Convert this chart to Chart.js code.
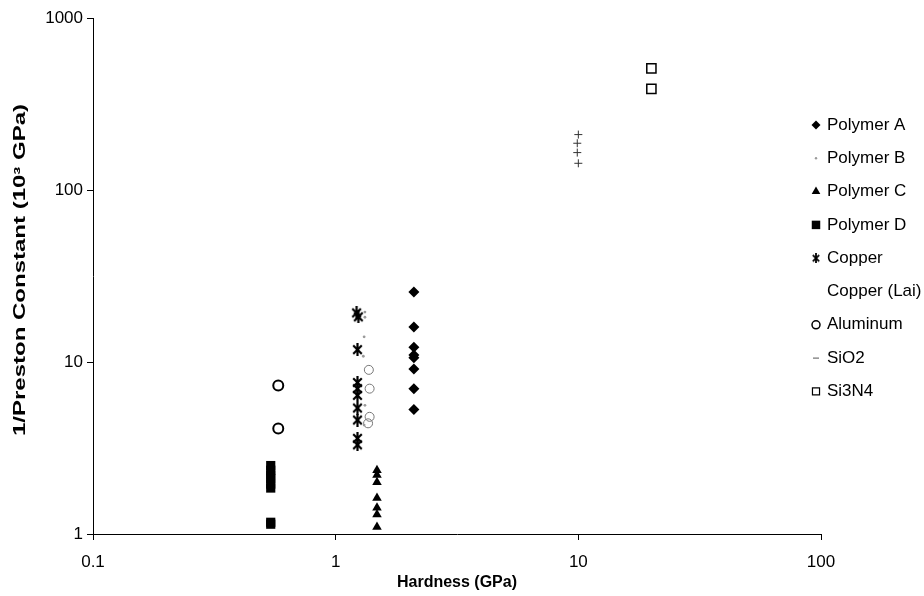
<!DOCTYPE html>
<html>
<head>
<meta charset="utf-8">
<script src="https://cdn.jsdelivr.net/npm/chart.js@4.4.0/dist/chart.umd.min.js"></script>
<style>
  html, body { margin: 0; padding: 0; background: #fff; }
  canvas { display: block; }
</style>
</head>
<body>
<canvas id="chart" width="924" height="596"></canvas>
<script>
// ── Axis ticks ────────────────────────────────────────
const xTickValues = [0.1, 1, 10, 100];
const yTickValues = [1, 10, 100, 1000];

// ── Series (hardness GPa, 1/Preston constant 10^3 GPa) ─
const seriesNames = ["Polymer A", "Polymer B", "Polymer C", "Polymer D", "Copper",
                     "Copper (Lai)", "Aluminum", "SiO2", "Si3N4"];

const polymerAHardness = [2.1, 2.1, 2.1, 2.1, 2.1, 2.1, 2.1, 2.1];
const polymerAValues   = [25.5, 16.0, 12.2, 11.0, 10.6, 9.1, 7.0, 5.3];

const polymerBHardness = [1.32, 1.32, 1.31, 1.30, 1.32, 1.31];
const polymerBValues   = [19.5, 18.2, 14.0, 10.8, 5.6, 4.3];

const polymerCHardness = [1.48, 1.48, 1.48, 1.48, 1.48, 1.48, 1.48];
const polymerCValues   = [2.35, 2.2, 2.0, 1.62, 1.42, 1.3, 1.1];

const polymerDHardness = [0.54, 0.54, 0.54, 0.54, 0.54, 0.54, 0.54, 0.54];
const polymerDValues   = [2.5, 2.35, 2.2, 2.1, 1.95, 1.85, 1.17, 1.14];

const copperHardness = [1.22, 1.24, 1.23, 1.23, 1.23, 1.23, 1.23, 1.23, 1.23, 1.23];
const copperValues   = [19.3, 18.3, 11.8, 7.6, 7.0, 6.4, 5.4, 4.6, 3.6, 3.3];

const copperLaiHardness = [1.37, 1.38, 1.38, 1.36];
const copperLaiValues   = [9.0, 7.0, 4.8, 4.4];

const aluminumHardness = [0.58, 0.58];
const aluminumValues   = [7.3, 4.1];

const sio2Hardness = [10.0, 9.9, 9.9, 10.0];
const sio2Values   = [210, 187, 165, 143];

const si3n4Hardness = [20, 20];
const si3n4Values   = [510, 387];

const yTitle = "1/Preston Constant (10\u00B3 GPa)";
const xTitle = "Hardness (GPa)";

function toPoints(xs, ys) {
    return ys.map((y, i) => ({ x: xs[i], y: y }));
}

// Asterisk marker (X with vertical bar), like the spreadsheet "*" symbol
function makeAsterisk(size, lw) {
    const c = document.createElement("canvas");
    c.width = size; c.height = size;
    const g = c.getContext("2d");
    const m = lw, s = size - lw;
    g.strokeStyle = "#000";
    g.lineWidth = lw;
    g.beginPath();
    g.moveTo(m, m); g.lineTo(s, s);
    g.moveTo(s, m); g.lineTo(m, s);
    g.moveTo(size / 2, 0); g.lineTo(size / 2, size);
    g.stroke();
    return c;
}
const asteriskBig   = makeAsterisk(13, 2.2);
const asteriskSmall = makeAsterisk(10, 1.8);

const datasets = [
    { label: seriesNames[0], data: toPoints(polymerAHardness, polymerAValues),
      pointStyle: "rectRot", pointRadius: 5.5, backgroundColor: "#000", borderColor: "#000", borderWidth: 0 },
    { label: seriesNames[1], data: toPoints(polymerBHardness, polymerBValues),
      pointStyle: "circle", pointRadius: 1.4, backgroundColor: "#9a9a9a", borderColor: "#9a9a9a", borderWidth: 0 },
    { label: seriesNames[2], data: toPoints(polymerCHardness, polymerCValues),
      pointStyle: "triangle", pointRadius: 5.5, backgroundColor: "#000", borderColor: "#000", borderWidth: 0 },
    { label: seriesNames[3], data: toPoints(polymerDHardness, polymerDValues),
      pointStyle: "rect", pointRadius: 6.5, backgroundColor: "#000", borderColor: "#000", borderWidth: 0 },
    { label: seriesNames[4], data: toPoints(copperHardness, copperValues),
      pointStyle: asteriskBig, backgroundColor: "#000", borderColor: "#000" },
    { label: seriesNames[5], data: toPoints(copperLaiHardness, copperLaiValues),
      pointStyle: "circle", pointRadius: 4.5, backgroundColor: "rgba(255,255,255,0)", borderColor: "#777", borderWidth: 1 },
    { label: seriesNames[6], data: toPoints(aluminumHardness, aluminumValues),
      pointStyle: "circle", pointRadius: 5, backgroundColor: "#fff", borderColor: "#000", borderWidth: 2 },
    { label: seriesNames[7], data: toPoints(sio2Hardness, sio2Values),
      pointStyle: "cross", pointRadius: 4, backgroundColor: "#333", borderColor: "#333", borderWidth: 1 },
    { label: seriesNames[8], data: toPoints(si3n4Hardness, si3n4Values),
      pointStyle: "rect", pointRadius: 6.5, backgroundColor: "#fff", borderColor: "#000", borderWidth: 1.5 }
];

// legend markers as they appear in the reference (Copper (Lai) shows none)
const legendMarkers = [
    { style: "rectRot", r: 4.5, fill: "#000", stroke: "#000", lw: 0 },
    { style: "circle",  r: 1.2, fill: "#9a9a9a", stroke: "#9a9a9a", lw: 0 },
    { style: "triangle", r: 5, fill: "#000", stroke: "#000", lw: 0 },
    { style: "rect",    r: 6, fill: "#000", stroke: "#000", lw: 0 },
    { style: asteriskSmall, r: 5, fill: "#000", stroke: "#000", lw: 1 },
    null,
    { style: "circle",  r: 4, fill: "#fff", stroke: "#000", lw: 1.5 },
    { style: "line",    r: 3, fill: "#555", stroke: "#555", lw: 1 },
    { style: "rect",    r: 5, fill: "#fff", stroke: "#000", lw: 1.2 }
];

const fontFamily = "'Liberation Sans', Arial, sans-serif";

// ── Custom legend on the right + stretched y title ────
const extras = {
    id: "extras",
    afterDraw(chart) {
        const ctx = chart.ctx;
        ctx.save();
        ctx.font = "17px " + fontFamily;
        ctx.textBaseline = "middle";
        ctx.textAlign = "left";
        seriesNames.forEach((name, i) => {
            const y = 125 + i * 33.3;
            const m = legendMarkers[i];
            if (m) {
                ctx.fillStyle = m.fill;
                ctx.strokeStyle = m.stroke;
                ctx.lineWidth = m.lw;
                Chart.helpers.drawPoint(ctx, { pointStyle: m.style, radius: m.r, borderWidth: m.lw, rotation: 0 }, 816, y);
            }
            ctx.fillStyle = "#000";
            ctx.fillText(name, 827, y);
        });
        ctx.restore();

        // y axis title (the original scan is stretched along the text)
        ctx.save();
        ctx.translate(21, 270);
        ctx.rotate(-Math.PI / 2);
        ctx.scale(1.5, 1);
        ctx.font = "bold 16px " + fontFamily;
        ctx.fillStyle = "#000";
        ctx.textAlign = "center";
        ctx.textBaseline = "middle";
        ctx.fillText(yTitle, 0, 0);
        ctx.restore();
    }
};

const tickFont  = { family: fontFamily, size: 17 };
const titleFont = { family: fontFamily, size: 16, weight: "bold" };

new Chart(document.getElementById("chart").getContext("2d"), {
    type: "scatter",
    data: { datasets: datasets },
    options: {
        responsive: false,
        animation: false,
        layout: { padding: { top: 18, right: 103, bottom: 0, left: 0 } },
        plugins: {
            legend: { display: false },
            tooltip: { enabled: false }
        },
        scales: {
            x: {
                type: "logarithmic",
                min: 0.1, max: 100,
                afterBuildTicks: axis => { axis.ticks = xTickValues.map(v => ({ value: v })); },
                afterFit: scale => { scale.height = 62; },
                ticks: { color: "#000", font: tickFont, padding: 12, maxRotation: 0,
                         callback: v => String(v) },
                grid: { drawOnChartArea: false, drawTicks: true, tickLength: 6, color: "#000" },
                border: { color: "#000", width: 1 },
                title: { display: true, text: xTitle, color: "#000", font: titleFont, padding: { top: 0, bottom: 4 } }
            },
            y: {
                type: "logarithmic",
                min: 1, max: 1000,
                afterBuildTicks: axis => { axis.ticks = yTickValues.map(v => ({ value: v })); },
                afterFit: scale => { scale.width = 93; },
                ticks: { color: "#000", font: tickFont, padding: 4,
                         callback: v => String(v) },
                grid: { drawOnChartArea: false, drawTicks: true, tickLength: 6, color: "#000" },
                border: { color: "#000", width: 1 },
                title: { display: false }
            }
        }
    },
    plugins: [extras]
});
</script>
</body>
</html>
